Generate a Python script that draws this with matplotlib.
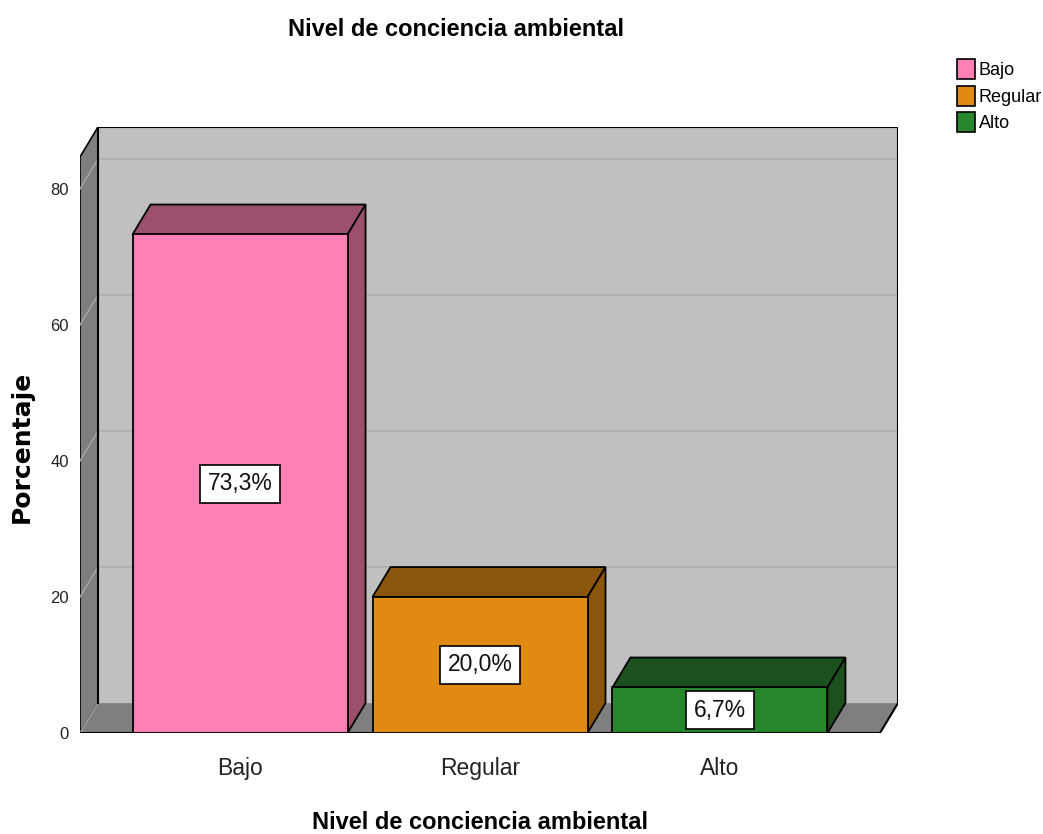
import matplotlib
matplotlib.use("Agg")
import matplotlib.pyplot as plt
from matplotlib.patches import Polygon, Patch

categorias = ["Bajo", "Regular", "Alto"]
porcentajes = [73.3, 20.0, 6.7]
etiquetas = ["73,3%", "20,0%", "6,7%"]
marcas_y = [0, 20, 40, 60, 80]

color_frente = ["#FF80B4", "#E08A12", "#28862C"]
color_sombra = ["#9B506E", "#8A560B", "#1C501E"]

fuente = ["Liberation Sans", "DejaVu Sans"]

# caja 3D: frente en x0..x1, profundidad (dx, dy) en unidades de datos
x0, x1 = -0.667, 2.667
dx, dy = 0.075, 4.4
ytop = 84.7
ancho = 0.896

fig = plt.figure(figsize=(10.43, 8.34), dpi=100)
W, H = 1043, 834
ax = fig.add_axes([80 / W, (834 - 733) / H, (898 - 80) / W, (733 - 127) / H])
ax.set_xlim(x0, x1 + dx)
ax.set_ylim(0, ytop + dy)

# pared del fondo
ax.add_patch(Polygon([(x0 + dx, dy), (x1 + dx, dy), (x1 + dx, ytop + dy), (x0 + dx, ytop + dy)],
                     closed=True, fc="#C0C0C0", ec="none", zorder=1))
for t in marcas_y[1:]:
    ax.plot([x0 + dx, x1 + dx], [t + dy, t + dy], color="#B2B2B2", lw=1.5, zorder=1.5)

# pared lateral y piso
ax.add_patch(Polygon([(x0, 0), (x0 + dx, dy), (x0 + dx, ytop + dy), (x0, ytop)],
                     closed=True, fc="#7F7F7F", ec="black", lw=1.2, zorder=2))
ax.add_patch(Polygon([(x0, 0), (x1, 0), (x1 + dx, dy), (x0 + dx, dy)],
                     closed=True, fc="#7F7F7F", ec="none", zorder=2))
for t in marcas_y:
    ax.plot([x0, x0 + dx], [t, t + dy], color="#A6A6A6", lw=1.0, zorder=2.5)

# bordes de la caja
ax.plot([x0 + dx, x0 + dx, x1 + dx, x1 + dx], [dy, ytop + dy, ytop + dy, dy],
        color="black", lw=1.5, zorder=2.6)
ax.plot([x0, x1, x1 + dx], [0, 0, dy], color="black", lw=1.5, zorder=2.6)

# barras 3D
for i, v in enumerate(porcentajes):
    a, b = i - ancho / 2, i + ancho / 2
    z = 3 + i
    ax.add_patch(Polygon([(a, v), (b, v), (b + dx, v + dy), (a + dx, v + dy)],
                         closed=True, fc=color_sombra[i], ec="black", lw=1.3, zorder=z))
    ax.add_patch(Polygon([(b, 0), (b + dx, dy), (b + dx, v + dy), (b, v)],
                         closed=True, fc=color_sombra[i], ec="black", lw=1.3, zorder=z))
    ax.add_patch(Polygon([(a, 0), (b, 0), (b, v), (a, v)],
                         closed=True, fc=color_frente[i], ec="black", lw=1.3, zorder=z))
    ax.text(i, v / 2, etiquetas[i], ha="center", va="center", fontsize=16.5,
            family=fuente, color="#111111", zorder=z + 0.5,
            bbox=dict(boxstyle="square,pad=0.33", fc="white", ec="black", lw=1.2))

for s in ax.spines.values():
    s.set_visible(False)
ax.set_xticks(range(len(categorias)))
ax.set_xticklabels(categorias, fontsize=16.5, family=fuente, color="#222222")
ax.set_yticks(marcas_y)
ax.set_yticklabels([str(t) for t in marcas_y], fontsize=12, family=fuente, color="#222222")
ax.tick_params(axis="x", length=0, pad=17)
ax.tick_params(axis="y", length=0, pad=8)

fig.text(456 / W, (834 - 36) / H, "Nivel de conciencia ambiental", ha="center", va="baseline",
         fontsize=17, fontweight="bold", family=fuente)
fig.text(480 / W, (834 - 829) / H, "Nivel de conciencia ambiental", ha="center", va="baseline",
         fontsize=17, fontweight="bold", family=fuente)
fig.text(22 / W, (834 - 447) / H, "Porcentaje", ha="center", va="center", rotation=90,
         fontsize=18, fontweight="bold", family="DejaVu Sans")

handles = [Patch(fc=c, ec="black", lw=1.2) for c in color_frente]
fig.legend(handles, categorias, loc="upper left", bbox_to_anchor=(957 / W, (834 - 59) / H),
           bbox_transform=fig.transFigure, frameon=False, borderpad=0, borderaxespad=0,
           handlelength=1.0, handleheight=1.35, labelspacing=0.35, handletextpad=0.2,
           prop={"family": fuente, "size": 13})

fig.savefig("out.png", dpi=100)
